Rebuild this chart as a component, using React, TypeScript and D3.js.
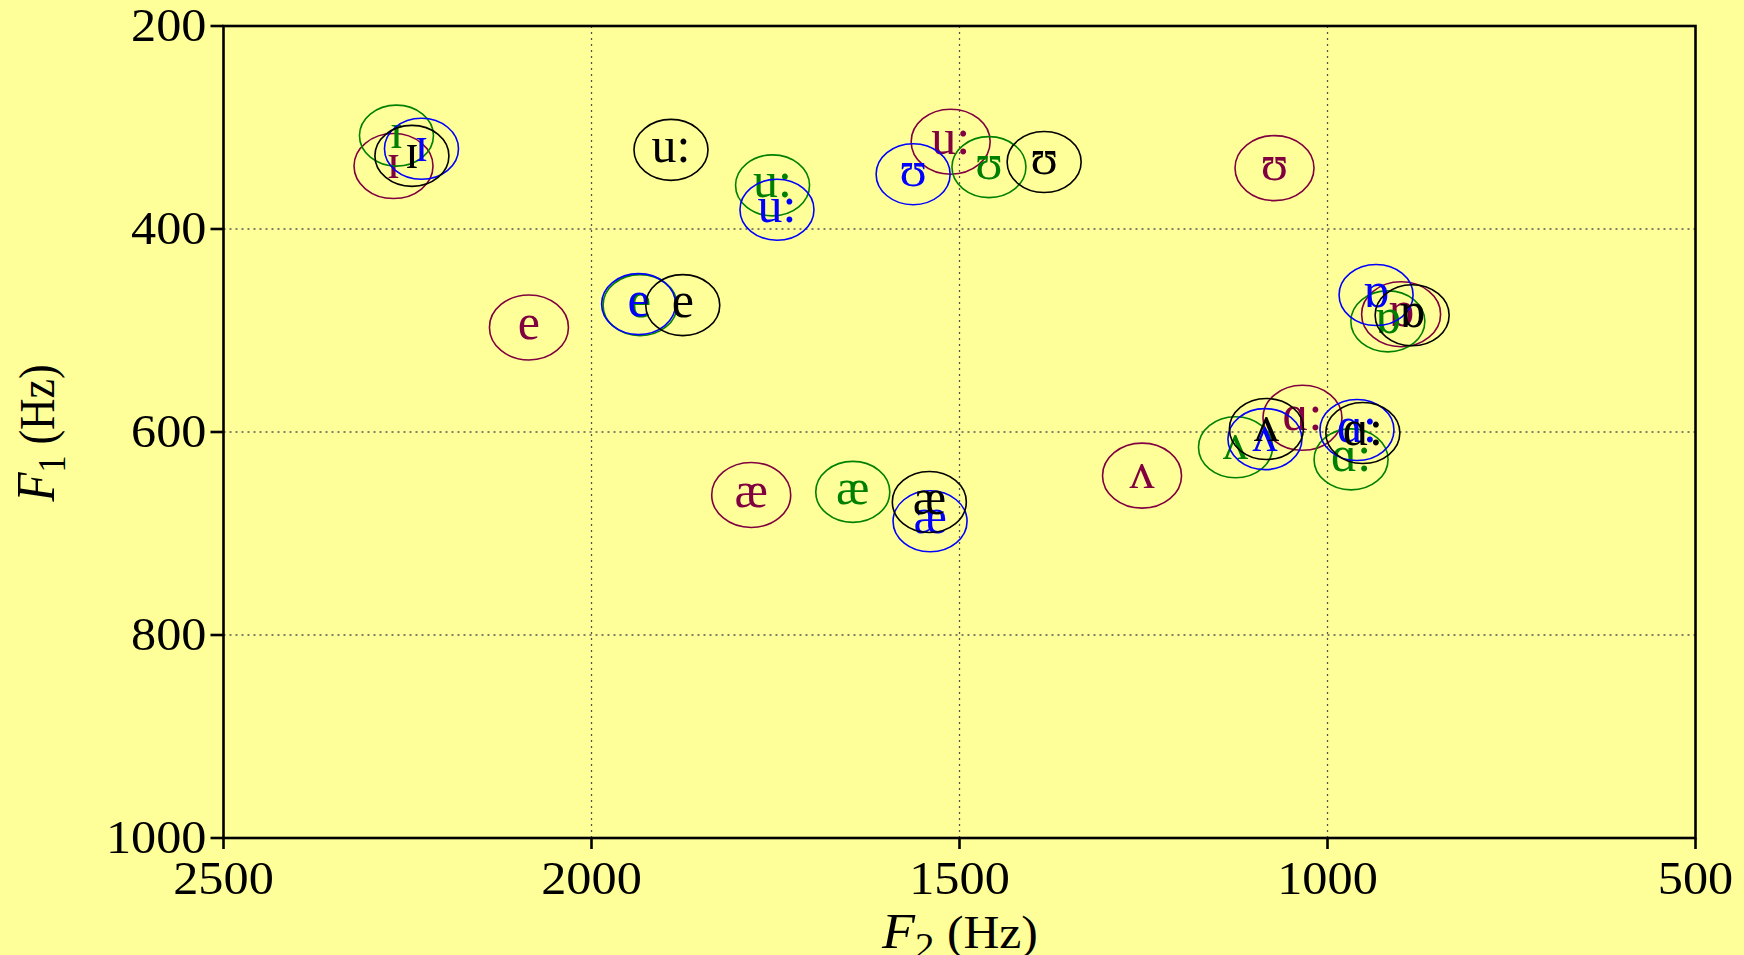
import React, { useEffect } from "react";
import * as d3 from "d3";

const vowels = ["ɪ", "e", "æ", "u:", "ʊ", "ʌ", "ɑ:", "ɒ"];

const maroonF2 = [2269, 2085, 1783, 1512, 1072, 1252, 1034, 900];
const maroonF1 = [338, 497, 662, 314, 340, 643, 586, 484];
const greenF2 = [2265, 1934, 1645, 1754, 1460, 1125, 968, 918];
const greenF1 = [308, 475, 659, 357, 339, 615, 627, 491];
const blueF2 = [2231, 1936, 1540, 1748, 1563, 1085, 960, 934];
const blueF1 = [321, 474, 688, 381, 346, 607, 598, 465];
const blackF2 = [2244, 1876, 1541, 1892, 1385, 1083, 952, 885];
const blackF1 = [328, 475, 669, 322, 334, 597, 601, 485];

const xTicks = [2500, 2000, 1500, 1000, 500];
const yTicks = [200, 400, 600, 800, 1000];
const xGrid = [2000, 1500, 1000];
const yGrid = [400, 600, 800];

const series = [
  { name: "maroon", color: "#800040", f2: maroonF2, f1: maroonF1, rx: 39.5, ry: 32.5 },
  { name: "green", color: "#008000", f2: greenF2, f1: greenF1, rx: 37, ry: 30.5 },
  { name: "blue", color: "#0000ff", f2: blueF2, f1: blueF1, rx: 37, ry: 30.5 },
  { name: "black", color: "#000000", f2: blackF2, f1: blackF1, rx: 37, ry: 30.5 },
];

const W = 1744;
const H = 955;
const FONT = "'Liberation Serif', 'DejaVu Serif', 'Times New Roman', serif";

export default function App() {
  useEffect(() => {
    document.body.style.margin = "0";
    document.body.style.background = "#ffff99";
  }, []);

  const x = d3.scaleLinear().domain([2500, 500]).range([223.5, 1695.5]);
  const y = d3.scaleLinear().domain([200, 1000]).range([26, 838]);
  const [x0, x1] = x.range();
  const [y0, y1] = y.range();

  return (
    <svg width={W} height={H} style={{ display: "block", background: "#ffff99" }} fontFamily={FONT}>
      <rect x={0} y={0} width={W} height={H} fill="#ffff99" />
      {yGrid.map((v) => (
        <line key={"gy" + v} x1={x0} x2={x1} y1={y(v)} y2={y(v)} stroke="#555" strokeWidth={1.3} strokeDasharray="2,4" />
      ))}
      {xGrid.map((v) => (
        <line key={"gx" + v} x1={x(v)} x2={x(v)} y1={y0} y2={y1} stroke="#555" strokeWidth={1.3} strokeDasharray="2,4" />
      ))}
      <rect x={x0} y={y0} width={x1 - x0} height={y1 - y0} fill="none" stroke="#000" strokeWidth={2.6} />
      {yTicks.map((v) => (
        <g key={"yt" + v}>
          <line x1={x0 - 13} x2={x0} y1={y(v)} y2={y(v)} stroke="#000" strokeWidth={2.6} />
          <text transform={`translate(${x0 - 17},${y(v) + 15}) scale(1.07,1)`} textAnchor="end" fontSize={47}>
            {v}
          </text>
        </g>
      ))}
      {xTicks.map((v) => (
        <g key={"xt" + v}>
          <line x1={x(v)} x2={x(v)} y1={y1} y2={y1 + 11} stroke="#000" strokeWidth={2.6} />
          <text transform={`translate(${x(v)},${y1 + 56}) scale(1.07,1)`} textAnchor="middle" fontSize={47}>
            {v}
          </text>
        </g>
      ))}
      <text transform="translate(960,948) scale(1.08,1)" textAnchor="middle">
        <tspan fontStyle="italic" fontSize={50}>F</tspan>
        <tspan fontSize={36} dy={10}>2</tspan>
        <tspan fontSize={46} dy={-10}>{" (Hz)"}</tspan>
      </text>
      <text transform="translate(54,433) rotate(-90) scale(0.95,1.1)" textAnchor="middle">
        <tspan fontStyle="italic" fontSize={50}>F</tspan>
        <tspan fontSize={36} dy={10}>1</tspan>
        <tspan fontSize={46} dy={-10}>{" (Hz)"}</tspan>
      </text>
      {series.map((s) => (
        <g key={s.name}>
          {vowels.map((v, i) => (
            <g key={s.name + i}>
              <ellipse cx={x(s.f2[i])} cy={y(s.f1[i])} rx={s.rx} ry={s.ry} fill="none" stroke={s.color} strokeWidth={1.6} />
              <text x={x(s.f2[i])} y={y(s.f1[i]) + 12} textAnchor="middle" fontSize={50} fill={s.color}>
                {v}
              </text>
            </g>
          ))}
        </g>
      ))}
    </svg>
  );
}
